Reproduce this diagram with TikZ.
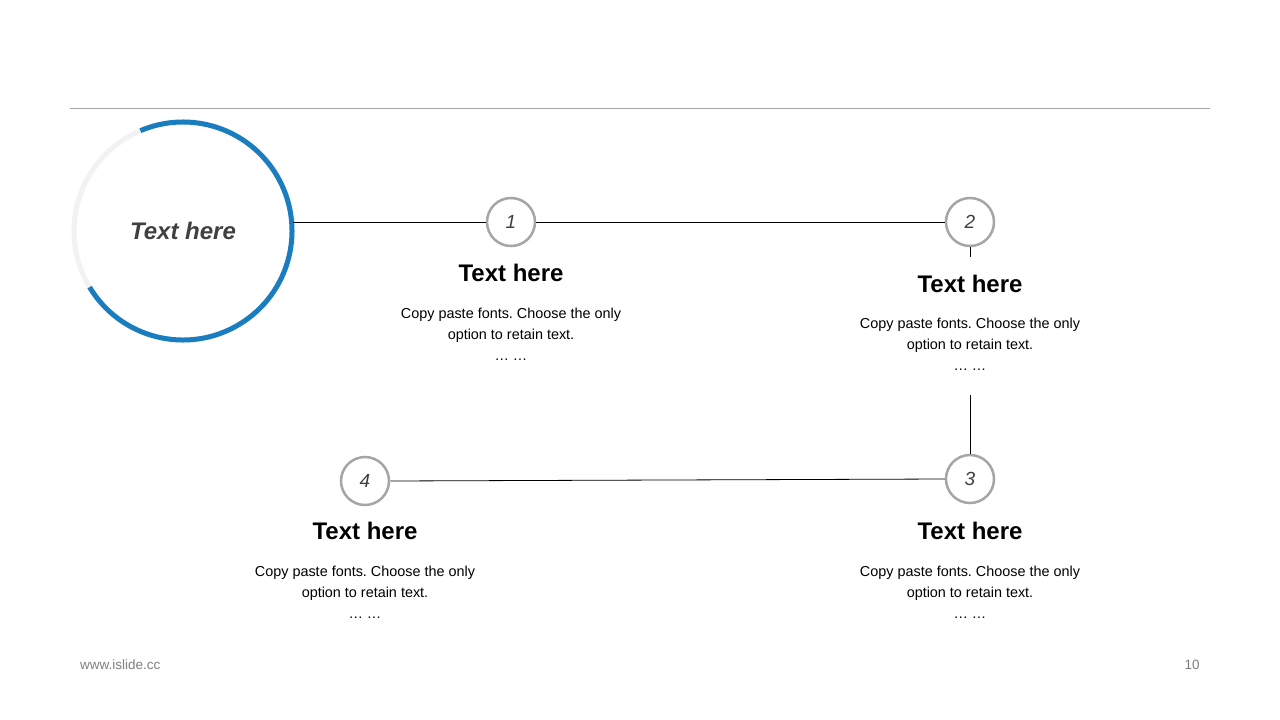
\documentclass[tikz,border=0pt]{standalone}
\usepackage{fontspec}
\setmainfont{Liberation Sans}
\usetikzlibrary{positioning}
\frenchspacing
\definecolor{ringblue}{HTML}{1A7DC0}
\definecolor{ringgray}{HTML}{F2F2F2}
\definecolor{stepgray}{HTML}{A6A6A6}
\definecolor{textgray}{HTML}{404040}
\definecolor{footgray}{HTML}{7F7F7F}
\newcommand{\copytext}{Copy paste fonts. Choose the only\\option to retain text.\\… …}
\tikzstyle{stepcircle} = [circle, draw=stepgray, line width=2.5pt, fill=white, minimum size=48pt, inner sep=0pt, text=textgray, font=\fontsize{19}{19}\selectfont\itshape]
\tikzstyle{steptitle} = [font=\fontsize{24}{26}\selectfont\bfseries, inner sep=0pt]
\tikzstyle{stepbody} = [font=\fontsize{14.4}{21}\selectfont, align=center, inner sep=0pt, anchor=north]
\tikzstyle{link} = [draw=black, line width=0.8pt]

\begin{document}
\begin{tikzpicture}[x=1pt,y=1pt]
	\useasboundingbox (0,0) rectangle (1280,-720);
	\fill[white] (0,0) rectangle (1280,-720);
	\draw[stepgray, line width=1pt] (70,-108) -- (1210,-108);
	% hub ring
	\draw[ringgray, line width=5pt] (183,-231) circle[radius=109];
	\draw[ringblue, line width=5pt] ([shift={(183,-231)}]-149:109) arc[start angle=-149, end angle=113, radius=109];
	\node[circle, minimum size=220pt, inner sep=0pt, text=textgray, font=\fontsize{24}{24}\selectfont\bfseries\itshape] (hub) at (183,-231) {Text here};
	% steps
	\node[stepcircle] (s1) at (511,-222) {1};
	\node[stepcircle] (s2) at (970,-222) {2};
	\node[stepcircle] (s3) at (970,-479) {3};
	\node[stepcircle] (s4) at (365,-481) {4};
	\coordinate (s2stub) at (970,-257);
	\coordinate (s3top) at (970,-395);
	\draw[link] (hub.east |- s1.west) -- (s1.west);
	\draw[link] (s1.east) -- (s2.west);
	\draw[link] (s2.south) -- (s2stub);
	\draw[link] (s3top) -- (s3.north);
	\draw[link] (s3.west) -- (s4.east);
	% texts
	\node[steptitle] (t1) at (511,-273) {Text here};
	\node[stepbody] (b1) at (511,-308) {\copytext};
	\node[steptitle] (t2) at (970,-284) {Text here};
	\node[stepbody] (b2) at (970,-318) {\copytext};
	\node[steptitle] (t3) at (970,-531) {Text here};
	\node[stepbody] (b3) at (970,-566) {\copytext};
	\node[steptitle] (t4) at (365,-531) {Text here};
	\node[stepbody] (b4) at (365,-566) {\copytext};
	% footer
	\node[anchor=west, inner sep=0pt, text=footgray, font=\fontsize{13.5}{13.5}\selectfont] (site) at (80,-665) {www.islide.cc};
	\node[inner sep=0pt, text=footgray, font=\fontsize{13.5}{13.5}\selectfont] (page) at (1192,-665) {10};
\end{tikzpicture}
\end{document}
